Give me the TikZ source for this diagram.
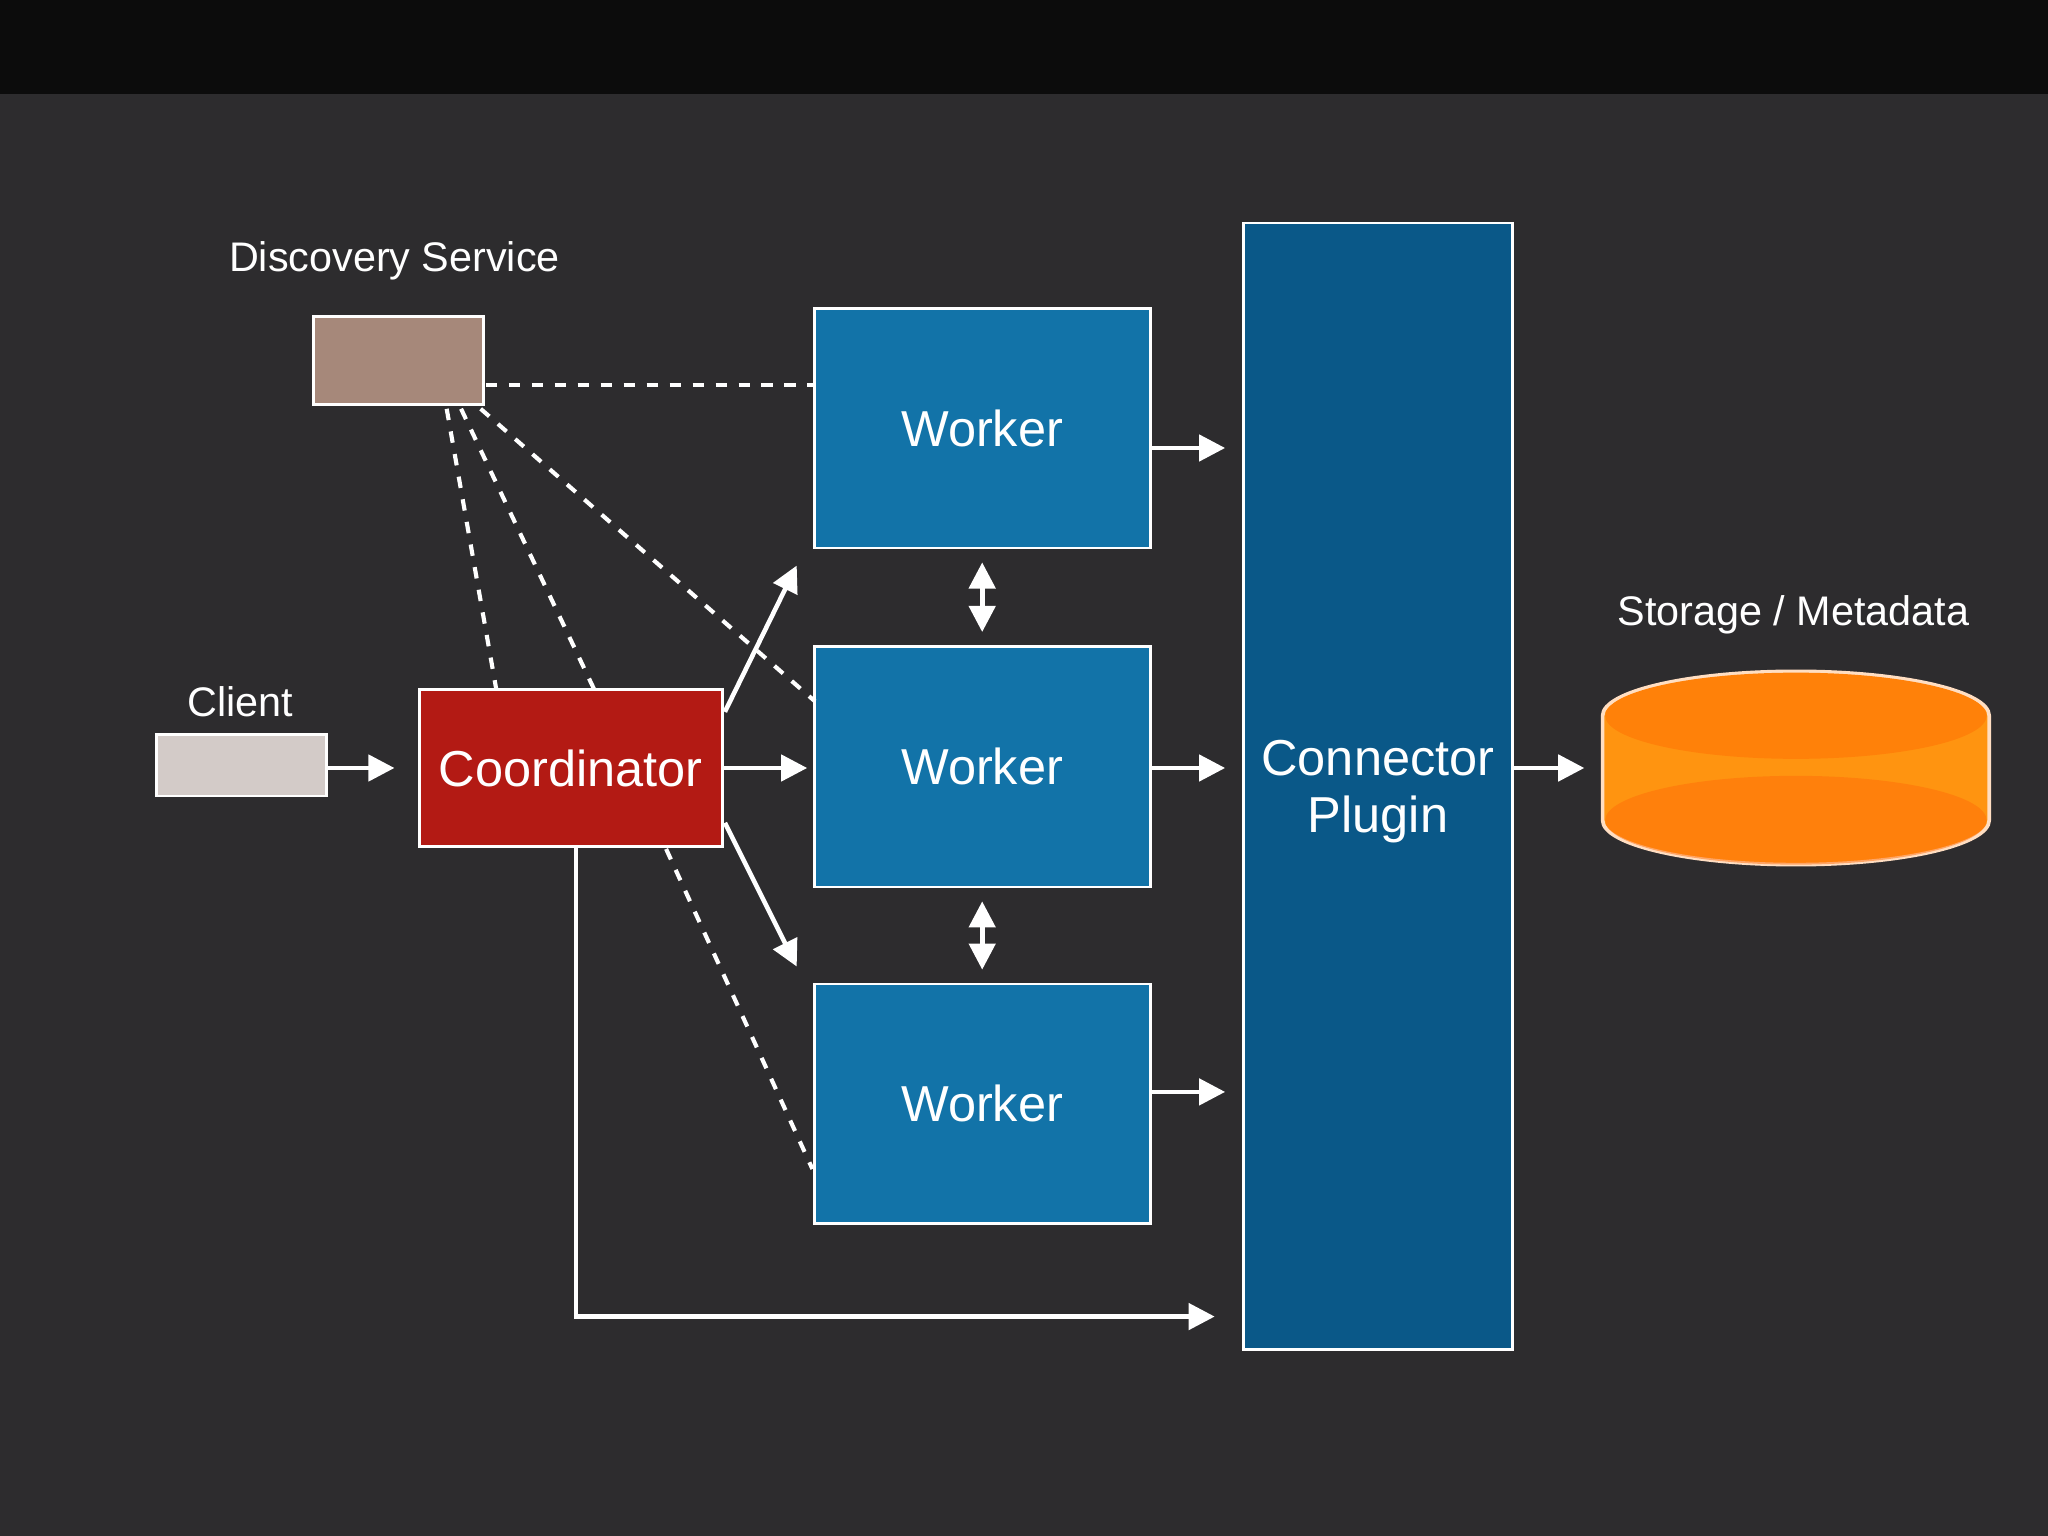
\documentclass[tikz,border=0pt]{standalone}
\usepackage{fontspec}
\setmainfont{Liberation Sans}
\usetikzlibrary{arrows.meta,shapes.geometric,calc}
\definecolor{bg}{HTML}{2D2C2E}
\definecolor{band}{HTML}{0C0C0C}
\definecolor{disc}{HTML}{A6887A}
\definecolor{cli}{HTML}{D3CBC8}
\definecolor{coord}{HTML}{B31A14}
\definecolor{work}{HTML}{1273A8}
\definecolor{plug}{HTML}{0A5888}
\definecolor{orng}{HTML}{FF7A0A}
\definecolor{orngL}{HTML}{FF9410}
\begin{document}
\begin{tikzpicture}[x=0.01cm,y=-0.01cm,
  box/.style={draw=white,line width=0.6pt,inner sep=0pt,text=white},
  lbl/.style={text=white,font=\fontsize{9}{10}\selectfont},
  big/.style={font=\fontsize{11}{12}\selectfont},
  arr/.style={draw=white,line width=1pt,-{Triangle[length=0.2cm,width=0.2cm]}},
  darr/.style={draw=white,line width=1pt,{Triangle[length=0.2cm,width=0.2cm]}-{Triangle[length=0.2cm,width=0.2cm]}},
  dashed link/.style={draw=white,line width=0.9pt,dash pattern=on 2.5pt off 2.5pt}]
\useasboundingbox (0,0) rectangle (1568,1176);
\fill[bg] (0,0) rectangle (1568,1176);
\fill[band] (0,0) rectangle (1568,72);
% nodes
\node[box,fill=disc,minimum width=1.3cm,minimum height=0.67cm] (ds) at (305,276) {};
\node[lbl] (dsl) at (302,200) {Discovery Service};
\node[box,fill=cli,minimum width=1.3cm,minimum height=0.47cm] (cl) at (185,586) {};
\node[lbl] (cll) at (184,537) {Client};
\node[box,fill=coord,minimum width=2.32cm,minimum height=1.2cm,big] (co) at (437,588) {Coordinator};
\node[box,fill=work,minimum width=2.57cm,minimum height=1.83cm,big] (w1) at (752,328) {Worker};
\node[box,fill=work,minimum width=2.57cm,minimum height=1.84cm,big] (w2) at (752,587) {Worker};
\node[box,fill=work,minimum width=2.57cm,minimum height=1.83cm,big] (w3) at (752,845) {Worker};
\node[box,fill=plug,minimum width=2.06cm,minimum height=8.62cm] (cp) at (1055,602) {};
\node[text=white,font=\fontsize{11}{12.5}\selectfont,align=center] (cpl) at (1055,606) {Connector\\Plugin};
\node[lbl] (stl) at (1373,471) {Storage / Metadata};
% cylinder
\fill[orngL,draw=white!75!orng,line width=0.8pt] (1227,548) -- (1227,628) arc[start angle=180,end angle=0,x radius=148,y radius=34] -- (1523,548) arc[start angle=0,end angle=-180,x radius=148,y radius=34] -- cycle;
\fill[orng!95!yellow] (1375,548) ellipse[x radius=146,y radius=33];
\fill[orng!90!red,opacity=0.5] (1229,628) arc[start angle=180,end angle=0,x radius=146,y radius=34] arc[start angle=0,end angle=-180,x radius=146,y radius=34];
\coordinate (st) at (1227,588);
% connectors
\draw[arr] (cl.east |- 0,588) -- (302,588);
\draw[arr] (co.east) -- (618,588);
\draw[arr] (555,545) -- (610,433);
\draw[arr] (555,630) -- (610,740);
\draw[arr] (w1.east |- 0,343) -- (938,343);
\draw[arr] (w2.east |- 0,588) -- (938,588);
\draw[arr] (w3.east |- 0,836) -- (938,836);
\draw[darr] ($(w1.south)+(0,10)$) -- ($(w2.north)+(0,-10)$);
\draw[darr] ($(w2.south)+(0,10)$) -- ($(w3.north)+(0,-10)$);
\draw[arr] (cp.east |- 0,588) -- (1213,588);
\draw[arr] (441,648) -- (441,1008) -- (930,1008);
\draw[dashed link] (372,295) -- (w1.west |- 0,295);
\draw[dashed link] (368,313) -- (624,537);
\draw[dashed link] (353,313) -- (455,528);
\draw[dashed link] (342,313) -- (380,528);
\draw[dashed link] (510,650) -- (622,895);
\end{tikzpicture}
\end{document}
